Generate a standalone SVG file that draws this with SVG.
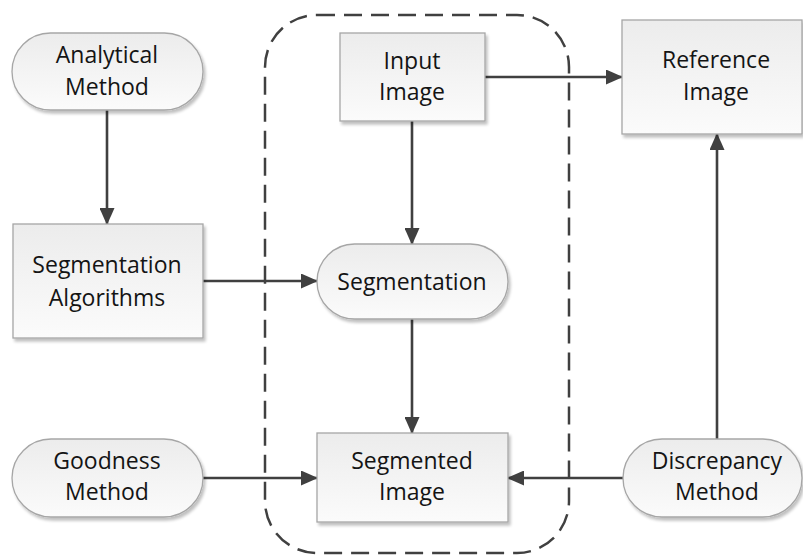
<svg xmlns="http://www.w3.org/2000/svg" width="803" height="556" viewBox="0 0 803 556">
  <style>
    .shape { fill: url(#fillGrad); stroke: #a6a6a6; stroke-width: 1.3; filter: url(#shadow); }
    .label { font-family: "Open Sans", "Noto Sans", sans-serif; font-size: 23px; fill: #141414; text-anchor: middle; }
    .conn { stroke: #404040; stroke-width: 2.6; fill: none; }
    .group { fill: none; stroke: #404040; stroke-width: 2.5; stroke-dasharray: 18 9; }
  </style>
  <defs>
    <linearGradient id="fillGrad" x1="0" y1="0" x2="0" y2="1">
      <stop offset="0" stop-color="#ececec"/>
      <stop offset="1" stop-color="#fbfbfb"/>
    </linearGradient>
    <filter id="shadow" x="-10%" y="-10%" width="125%" height="130%">
      <feGaussianBlur in="SourceAlpha" stdDeviation="1.5"/>
      <feOffset dx="2" dy="3" result="off"/>
      <feComponentTransfer><feFuncA type="linear" slope="0.25"/></feComponentTransfer>
      <feMerge><feMergeNode/><feMergeNode in="SourceGraphic"/></feMerge>
    </filter>
    <marker id="arrow" markerWidth="17" markerHeight="15" refX="16" refY="7.5" orient="auto" markerUnits="userSpaceOnUse">
      <path d="M0,0 L17,7.5 L0,15 Z" fill="#404040"/>
    </marker>
  </defs>

  <rect width="803" height="556" fill="#ffffff"/>

  <!-- dashed grouping frame -->
  <rect class="group" x="265" y="15" width="304" height="538" rx="52" ry="52"/>

  <g id="connectors">
    <line class="conn" x1="107" y1="110" x2="107" y2="224" marker-end="url(#arrow)"/>
    <line class="conn" x1="203" y1="281" x2="317" y2="281" marker-end="url(#arrow)"/>
    <line class="conn" x1="412" y1="121" x2="412" y2="244" marker-end="url(#arrow)"/>
    <line class="conn" x1="485" y1="77" x2="622" y2="77" marker-end="url(#arrow)"/>
    <line class="conn" x1="412" y1="319" x2="412" y2="433" marker-end="url(#arrow)"/>
    <line class="conn" x1="203" y1="478" x2="317" y2="478" marker-end="url(#arrow)"/>
    <line class="conn" x1="623" y1="478" x2="508" y2="478" marker-end="url(#arrow)"/>
    <line class="conn" x1="717" y1="439" x2="717" y2="134" marker-end="url(#arrow)"/>
  </g>

  <g id="analytical-method">
    <rect class="shape" x="12" y="33" width="191" height="77" rx="38.5" ry="38.5"/>
    <text class="label" x="107" y="63">Analytical</text>
    <text class="label" x="107" y="95">Method</text>
  </g>

  <g id="segmentation-algorithms">
    <rect class="shape" x="13" y="224" width="190" height="114"/>
    <text class="label" x="107" y="273">Segmentation</text>
    <text class="label" x="107" y="306">Algorithms</text>
  </g>

  <g id="goodness-method">
    <rect class="shape" x="12" y="439" width="191" height="78" rx="39" ry="39"/>
    <text class="label" x="107" y="469">Goodness</text>
    <text class="label" x="107" y="500">Method</text>
  </g>

  <g id="input-image">
    <rect class="shape" x="340" y="33" width="145" height="88"/>
    <text class="label" x="412" y="69">Input</text>
    <text class="label" x="412" y="100">Image</text>
  </g>

  <g id="segmentation">
    <rect class="shape" x="317" y="244" width="191" height="75" rx="37.5" ry="37.5"/>
    <text class="label" x="412" y="290">Segmentation</text>
  </g>

  <g id="segmented-image">
    <rect class="shape" x="317" y="433" width="191" height="89"/>
    <text class="label" x="412" y="469">Segmented</text>
    <text class="label" x="412" y="500">Image</text>
  </g>

  <g id="reference-image">
    <rect class="shape" x="622" y="20" width="180" height="114"/>
    <text class="label" x="716" y="68">Reference</text>
    <text class="label" x="716" y="100">Image</text>
  </g>

  <g id="discrepancy-method">
    <rect class="shape" x="623" y="439" width="179" height="78" rx="39" ry="39"/>
    <text class="label" x="717" y="469">Discrepancy</text>
    <text class="label" x="717" y="500">Method</text>
  </g>
</svg>
